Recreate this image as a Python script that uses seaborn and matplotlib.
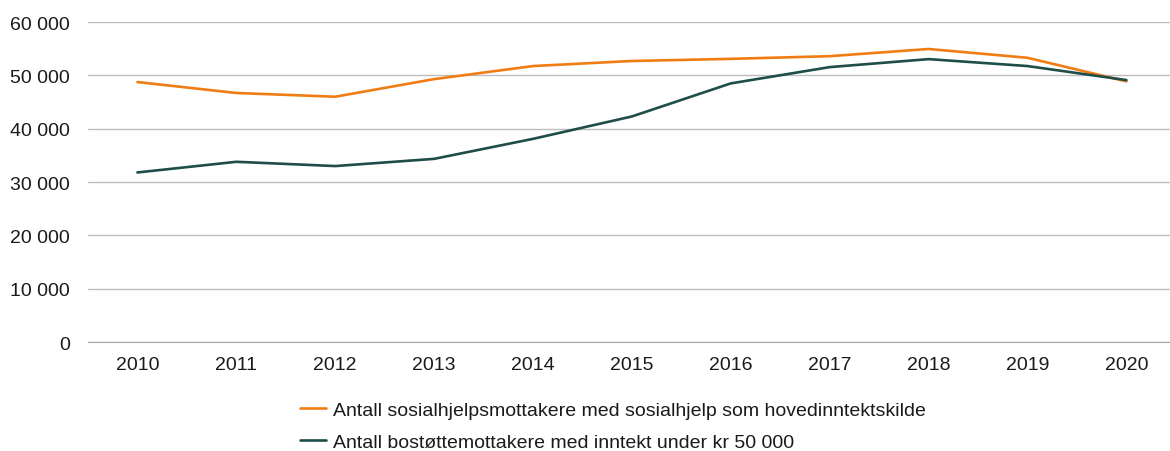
import pandas as pd
import seaborn as sns
import matplotlib.pyplot as plt
from matplotlib.ticker import FuncFormatter

# values
years = ['2010', '2011', '2012', '2013', '2014', '2015', '2016', '2017', '2018', '2019', '2020']
sosialhjelp = [48750, 46700, 46000, 49300, 51750, 52700, 53100, 53600, 54950, 53300, 48880]
bostotte = [31800, 33800, 33000, 34350, 38100, 42300, 48500, 51550, 53050, 51750, 49120]

label_sos = 'Antall sosialhjelpsmottakere med sosialhjelp som hovedinntektskilde'
label_bos = 'Antall bostøttemottakere med inntekt under kr 50 000'

df = pd.DataFrame({'år': years * 2,
                   'antall': sosialhjelp + bostotte,
                   'serie': [label_sos] * len(years) + [label_bos] * len(years)})

sns.set_style('white')
plt.rcParams['font.family'] = ['Liberation Sans', 'DejaVu Sans']

fig = plt.figure(figsize=(11.7, 4.52), dpi=100)
ax = fig.add_axes([0.0752, 0.241, 0.9298, 0.708])

sns.lineplot(data=df, x='år', y='antall', hue='serie', sort=False,
             palette=['#F07D14', '#1E4D4A'], linewidth=1.9, ax=ax, legend=False)

ax.set_ylim(0, 60000)
ax.set_yticks(range(0, 60001, 10000))
ax.set_xlim(-0.5, 10.5)
ax.yaxis.set_major_formatter(FuncFormatter(lambda v, p: f'{int(v):,}'.replace(',', ' ')))
ax.grid(axis='y', color='#BDBDBD', linewidth=1)
ax.set_axisbelow(True)
for s in ['top', 'right', 'left']:
    ax.spines[s].set_visible(False)
ax.spines['bottom'].set_color('#A6A6A6')
ax.tick_params(axis='both', length=0, labelsize=14, colors='#1a1a1a')
ax.tick_params(axis='x', pad=10)
ax.tick_params(axis='y', pad=13)
ax.set_xlabel('')
ax.set_ylabel('')

handles = [plt.Line2D([], [], color='#F07D14', linewidth=1.9),
           plt.Line2D([], [], color='#1E4D4A', linewidth=1.9)]
fig.legend(handles, [label_sos, label_bos], loc='upper left',
           bbox_to_anchor=(0.250, 0.127), frameon=False, fontsize=14,
           handlelength=1.3, handletextpad=0.4, labelspacing=0.72,
           labelcolor='#1a1a1a', borderaxespad=0)

fig.savefig('out.png', dpi=100)
